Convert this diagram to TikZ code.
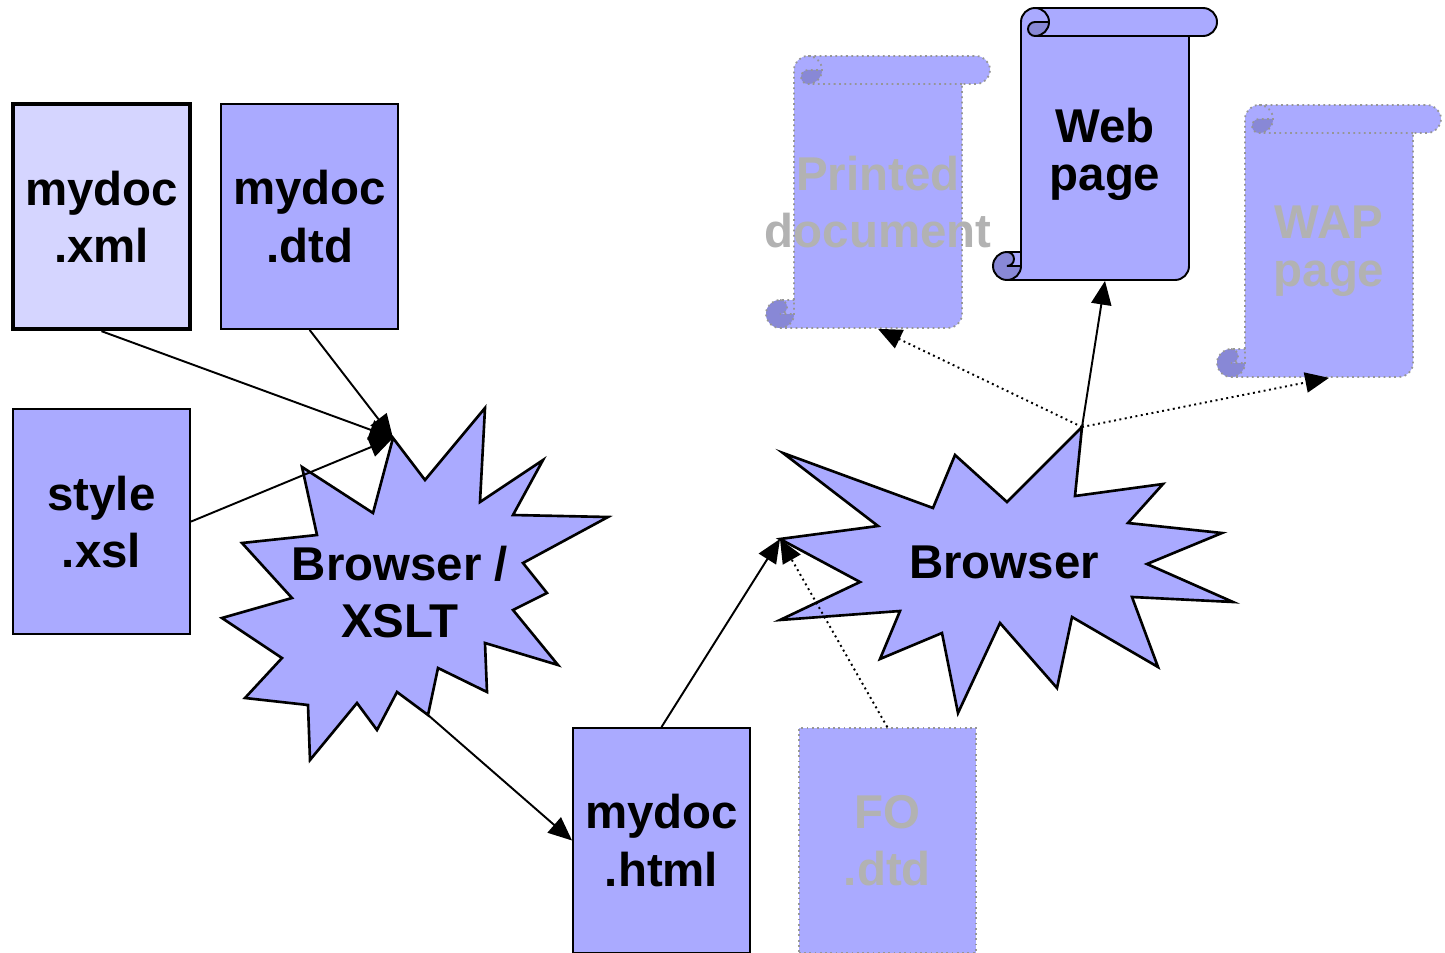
\documentclass[tikz,border=0pt]{standalone}
\usepackage{fontspec}
\setmainfont{Liberation Sans}
\usepackage{tikz}
\usetikzlibrary{arrows.meta,positioning}
\definecolor{docfill}{RGB}{170,170,255}
\definecolor{xmlfill}{RGB}{213,213,255}
\definecolor{curlfill}{RGB}{136,136,214}
\definecolor{fadegray}{RGB}{178,178,178}
\definecolor{fadeline}{RGB}{150,150,150}

\tikzset{
  scrolltext/.style={minimum width=3.36cm,minimum height=5.04cm,inner sep=0pt,align=center,
    font=\bfseries\fontsize{27}{27.5}\selectfont},
  scroll/.pic={
    \fill[docfill] (-84,94) -- (-84,-136) arc[start angle=180,delta angle=90,radius=14]
      -- (98,-150) arc[start angle=270,delta angle=180,radius=14] -- (84,-122) -- (84,108)
      arc[start angle=0,delta angle=90,radius=14] -- (-98,122)
      arc[start angle=90,delta angle=180,radius=14] -- cycle;
    % curls
    \fill[curlfill] (-56,-136) arc[start angle=0,delta angle=90,radius=14]
      arc[start angle=90,delta angle=180,radius=7] -- cycle;
    \fill[curlfill] (-84,108) arc[start angle=0,delta angle=270,radius=14]
      arc[start angle=270,delta angle=180,radius=7] -- cycle;
    \path[pic actions] (-84,94) -- (-84,-136) arc[start angle=180,delta angle=90,radius=14]
      -- (98,-150) arc[start angle=270,delta angle=180,radius=14] -- (84,-122) -- (84,108)
      arc[start angle=0,delta angle=90,radius=14] -- (-98,122)
      arc[start angle=90,delta angle=180,radius=14] -- cycle
      (-70,-150) arc[start angle=270,delta angle=180,radius=14]
      arc[start angle=90,delta angle=180,radius=7] -- (-56,-136)
      (84,-122) -- (-70,-122)
      (-98,94) arc[start angle=270,delta angle=180,radius=7] -- (-84,108)
      (-98,122) arc[start angle=90,delta angle=-90,radius=14] -- (-84,94);
    \node[scrolltext] (-body) at (0,-4) {#1};
  }
}

\begin{document}
\begin{tikzpicture}[x=0.02cm,y=-0.02cm,
    docbox/.style={draw,line width=1.1pt,fill=docfill,minimum width=3.54cm,minimum height=4.5cm,
      inner sep=0pt,align=center,font=\bfseries\fontsize{27}{32.5}\selectfont},
    fadebox/.style={docbox,draw=fadeline,line width=1pt,dotted,text=fadegray},
    burst/.style={draw,line width=1.5pt,fill=docfill,line join=miter},
    bursttext/.style={align=center,font=\bfseries\fontsize{27}{32.5}\selectfont},
    arr/.style={-{Triangle[length=13.5pt,width=11.5pt]},line width=1.1pt},
    darr/.style={arr,dotted}]
    \useasboundingbox[fill=white] (0,0) rectangle (1445,953);

    \node[docbox,fill=xmlfill,line width=2.5pt] (xml) at (101.5,216.5) {mydoc\\.xml};
    \node[docbox,right=0.56cm of xml] (dtd) {mydoc\\.dtd};
    \node[docbox,below=1.54cm of xml] (xsl) {style\\.xsl};
    \node[docbox] (html) at (661.5,840.5) {mydoc\\.html};
    \node[fadebox,right=0.94cm of html] (fo) {FO\\.dtd};

    % the two browsers
    \draw[burst] (393,438) coordinate (xslt-top) -- (425,480) -- (485,408) -- (480,502) -- (543,460)
      -- (513,515) -- (608,517) -- (523,563) -- (547,593) -- (513,610) -- (558,665) -- (485,643)
      -- (487,692) -- (438,668) -- (428,715) coordinate (xslt-out) -- (397,692) -- (377,730)
      -- (357,703) -- (310,760) -- (308,705) -- (245,698) -- (282,658) -- (222,618) -- (292,598)
      -- (242,543) -- (317,535) -- (302,467) -- (373,513) -- cycle;
    \node[bursttext] (xslt) at (400,592) {Browser /\\XSLT};

    \draw[burst] (783,453) -- (933,508) -- (955,455) -- (1007,502) -- (1082,427) coordinate (browser-top)
      -- (1075,496) -- (1163,484) -- (1128,523) -- (1222,533) -- (1147,564) -- (1233,602)
      -- (1132,597) -- (1158,667) -- (1072,617) -- (1057,688) -- (1000,623) -- (958,713)
      -- (942,633) -- (880,659) -- (900,611) -- (780,620) -- (860,582) -- (780,539) coordinate (browser-in)
      -- (878,526) -- cycle;
    \node[bursttext] (browser) at (1004,562) {Browser};

    % outputs
    \pic[draw=fadeline,dotted,line width=1pt,text=fadegray] (printed) at (878,206) {scroll={Printed\\[5pt]document}};
    \pic[draw=black,line width=1.1pt] (web) at (1105,158) {scroll={Web\\page}};
    \pic[draw=fadeline,dotted,line width=1pt,text=fadegray] (wap) at (1329,255) {scroll={WAP\\page}};

    \draw[arr] (xml.south) -- (xslt-top);
    \draw[arr] (dtd.south) -- (xslt-top);
    \draw[arr] (xsl.east) -- (xslt-top);
    \draw[arr] (xslt-out) -- (html.west);
    \draw[arr] (html.north) -- (browser-in);
    \draw[darr] (fo.north) -- (browser-in);
    \draw[arr] (browser-top) -- (web-body.south);
    \draw[darr] (browser-top) -- (printed-body.south);
    \draw[darr] (browser-top) -- (wap-body.south);
\end{tikzpicture}
\end{document}
